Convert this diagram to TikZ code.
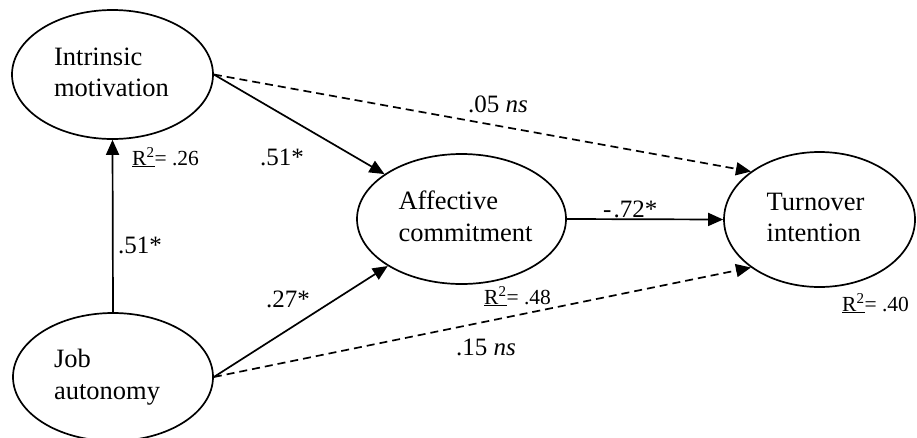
\documentclass[tikz,border=0pt]{standalone}
\usepackage{fontspec}
\setmainfont{Liberation Serif}
\usetikzlibrary{arrows.meta,shapes.geometric}
\newcommand\lvtext[4]{\raisebox{#2}{\kern#1\begin{tabular}{@{}l@{}}#3\\#4\end{tabular}\kern-#1}}
\newcommand\rsqtext[1]{\underline{R\textsuperscript{2}}= #1}
\begin{document}
\begin{tikzpicture}[x=1pt,y=-1pt,
  latent/.style={draw, ellipse, line width=1.7pt, inner sep=0pt,
    font=\fontsize{26.5}{31.5}\selectfont},
  effect/.style={line width=1.7pt, -{Triangle[length=15pt,width=13pt]}},
  nseffect/.style={effect, dash pattern=on 8pt off 5pt},
  coef/.style={anchor=base west, inner sep=0pt, font=\fontsize{25}{29}\selectfont},
  rsq/.style={anchor=base west, inner sep=0pt, font=\fontsize{21.5}{25}\selectfont}]
\clip (0,0) rectangle (917,437);
\fill[white] (0,0) rectangle (917,437);

\node[latent, minimum width=201pt, minimum height=129pt] (im) at (112.5,74.5)
  {\lvtext{-1pt}{3pt}{Intrinsic}{motivation}};
\node[latent, minimum width=200pt, minimum height=128pt] (ja) at (113,377)
  {\lvtext{-6pt}{3pt}{Job}{autonomy}};
\node[latent, minimum width=209pt, minimum height=130pt] (ac) at (461.5,219)
  {\lvtext{4pt}{3pt}{Affective}{commitment}};
\node[latent, minimum width=191pt, minimum height=135pt] (ti) at (819.5,219.5)
  {\lvtext{-4pt}{5pt}{Turnover}{intention}};

\draw[effect] (ja.north) -- (im.south);
\draw[effect] (im.east) -- (ac);
\draw[effect] (ja.east) -- (ac);
\draw[effect] (ac.east) -- (ti.west);
\draw[nseffect] (im.east) -- (ti.145);
\draw[nseffect] (ja.east) -- (ti.215);

\node[coef] (c1) at (260,165) {.51*};
\node[coef] (c2) at (118,253) {.51*};
\node[coef] (c3) at (266,307) {.27*};
\node[coef] (c4) at (468,112) {.05 \textit{ns}};
\node[coef] (c5) at (456,355) {.15 \textit{ns}};
\node[coef] (c6) at (603,217) {-\kern2pt.72*};

\node[rsq] (r1) at (132,165) {\rsqtext{.26}};
\node[rsq] (r2) at (484,304) {\rsqtext{.48}};
\node[rsq] (r3) at (842,311) {\rsqtext{.40}};
\end{tikzpicture}
\end{document}
